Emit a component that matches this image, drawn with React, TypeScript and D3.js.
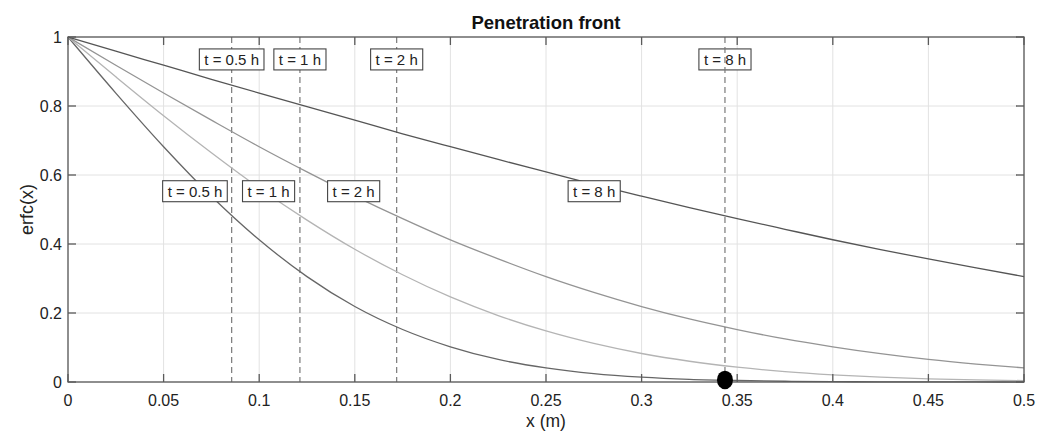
import React from "react";
import * as d3 from "d3";

const W = 1052;
const H = 435;
const M = { left: 68, right: 1024, top: 37, bottom: 382 };

const xValues = [0, 0.025, 0.05, 0.075, 0.1, 0.125, 0.15, 0.175, 0.2, 0.225, 0.25, 0.275, 0.3, 0.325, 0.35, 0.375, 0.4, 0.425, 0.45, 0.475, 0.5];

const yHalfHour = [1, 0.8375, 0.682, 0.5386, 0.4123, 0.3055, 0.2188, 0.1521, 0.102, 0.0653, 0.0409, 0.0243, 0.0141, 0.0078, 0.0043, 0.0022, 0.0011, 0.0005, 0.0002, 0.0001, 0.00004];
const yOneHour = [1, 0.8847, 0.7719, 0.6643, 0.5622, 0.4692, 0.3847, 0.3108, 0.2465, 0.1925, 0.1479, 0.1117, 0.0826, 0.0601, 0.043, 0.0301, 0.0208, 0.014, 0.0093, 0.006, 0.004];
const yTwoHours = [1, 0.918, 0.8375, 0.759, 0.682, 0.609, 0.539, 0.4735, 0.412, 0.357, 0.3055, 0.2598, 0.2188, 0.1829, 0.1521, 0.1247, 0.102, 0.0821, 0.0653, 0.0519, 0.0409];
const yEightHours = [1, 0.959, 0.9183, 0.8775, 0.8375, 0.798, 0.759, 0.7195, 0.6819, 0.645, 0.6088, 0.5726, 0.5386, 0.5056, 0.4735, 0.4427, 0.4123, 0.3839, 0.3566, 0.3308, 0.3055];

const seriesNames = ["t = 0.5 h", "t = 1 h", "t = 2 h", "t = 8 h"];
const seriesValues = [yHalfHour, yOneHour, yTwoHours, yEightHours];
const seriesColors = ["#666666", "#b4b4b4", "#949494", "#555555"];

// penetration front positions (vertical dashed lines)
const frontX = [0.0856, 0.1213, 0.1719, 0.3436];
// label positions
const topLabelY = 0.935;
const curveLabelX = [0.0664, 0.1049, 0.1494, 0.2752];
const curveLabelY = 0.553;

const dotPoint = { x: 0.3436, y: 0.006 };

const xTicks = [0, 0.05, 0.1, 0.15, 0.2, 0.25, 0.3, 0.35, 0.4, 0.45, 0.5];
const yTicks = [0, 0.2, 0.4, 0.6, 0.8, 1];

const FONT = "'Liberation Sans', Arial, Helvetica, sans-serif";

const charW: Record<string, number> = { t: 0.278, " ": 0.278, "=": 0.584, ".": 0.278, h: 0.556 };
function measure(s: string, fs: number) {
  let w = 0;
  for (const c of s) w += charW[c] ?? 0.556;
  return w * fs;
}

function Label({ x, y, text }: { x: number; y: number; text: string }) {
  const fs = 15;
  const w = measure(text, fs) + 10;
  const h = 21;
  return (
    <g>
      <rect x={x - w / 2} y={y - h / 2} width={w} height={h} fill="#fff" stroke="#444" strokeWidth={1.1} />
      <text x={x} y={y + 5.3} textAnchor="middle" fontSize={fs} fontFamily={FONT} fill="#222">
        {text}
      </text>
    </g>
  );
}

export default function App() {
  const x = d3.scaleLinear().domain([0, 0.5]).range([M.left, M.right]);
  const y = d3.scaleLinear().domain([0, 1]).range([M.bottom, M.top]);
  const line = d3
    .line<number>()
    .x((_, i) => x(xValues[i]))
    .y((d) => y(d))
    .curve(d3.curveMonotoneX);

  const axisColor = "#5a5a5a";
  const tickLen = 8;

  return (
    <svg width={W} height={H} style={{ position: "absolute", left: 0, top: 0, background: "#fff" }}>
      <rect x={0} y={0} width={W} height={H} fill="#fff" />
      {xTicks.map((t) => (
        <line key={"gx" + t} x1={x(t)} x2={x(t)} y1={M.top} y2={M.bottom} stroke="#e2e2e2" strokeWidth={1} />
      ))}
      {yTicks.map((t) => (
        <line key={"gy" + t} x1={M.left} x2={M.right} y1={y(t)} y2={y(t)} stroke="#e2e2e2" strokeWidth={1} />
      ))}
      {frontX.slice(0, 3).map((f, i) => (
        <line key={"f" + i} x1={x(f)} x2={x(f)} y1={M.top} y2={M.bottom} stroke="#7a7a7a" strokeWidth={1.2} strokeDasharray="6,4" />
      ))}
      {seriesValues.map((vals, i) => (
        <path key={"c" + i} d={line(vals) || ""} fill="none" stroke={seriesColors[i]} strokeWidth={1.3} />
      ))}
      {seriesNames.map((n, i) => (
        <Label key={"tl" + i} x={x(frontX[i])} y={y(topLabelY)} text={n} />
      ))}
      {seriesNames.map((n, i) => (
        <Label key={"cl" + i} x={x(curveLabelX[i])} y={y(curveLabelY)} text={n} />
      ))}
      <line x1={x(frontX[3])} x2={x(frontX[3])} y1={M.top} y2={M.bottom} stroke="#7a7a7a" strokeWidth={1.2} strokeDasharray="6,4" />
      <rect x={M.left} y={M.top} width={M.right - M.left} height={M.bottom - M.top} fill="none" stroke={axisColor} strokeWidth={1.3} />
      {xTicks.map((t) => (
        <g key={"tx" + t}>
          <line x1={x(t)} x2={x(t)} y1={M.bottom} y2={M.bottom - tickLen} stroke={axisColor} strokeWidth={1.3} />
          <line x1={x(t)} x2={x(t)} y1={M.top} y2={M.top + tickLen} stroke={axisColor} strokeWidth={1.3} />
          <text x={x(t)} y={406} textAnchor="middle" fontSize={16} fontFamily={FONT} fill="#222">
            {String(t)}
          </text>
        </g>
      ))}
      {yTicks.map((t) => (
        <g key={"ty" + t}>
          <line x1={M.left} x2={M.left + tickLen} y1={y(t)} y2={y(t)} stroke={axisColor} strokeWidth={1.3} />
          <line x1={M.right} x2={M.right - tickLen} y1={y(t)} y2={y(t)} stroke={axisColor} strokeWidth={1.3} />
          <text x={62} y={y(t) + 6} textAnchor="end" fontSize={16} fontFamily={FONT} fill="#222">
            {String(t)}
          </text>
        </g>
      ))}
      <ellipse cx={x(dotPoint.x)} cy={y(dotPoint.y)} rx={8} ry={9.3} fill="#000" />
      <text x={(M.left + M.right) / 2} y={29} textAnchor="middle" fontSize={18.5} fontWeight="bold" fontFamily={FONT} fill="#111">
        Penetration front
      </text>
      <text x={(M.left + M.right) / 2} y={427} textAnchor="middle" fontSize={17.5} fontFamily={FONT} fill="#222">
        x (m)
      </text>
      <text transform={`translate(33,${(M.top + M.bottom) / 2}) rotate(-90)`} textAnchor="middle" fontSize={18} fontFamily={FONT} fill="#222">
        erfc(x)
      </text>
    </svg>
  );
}
